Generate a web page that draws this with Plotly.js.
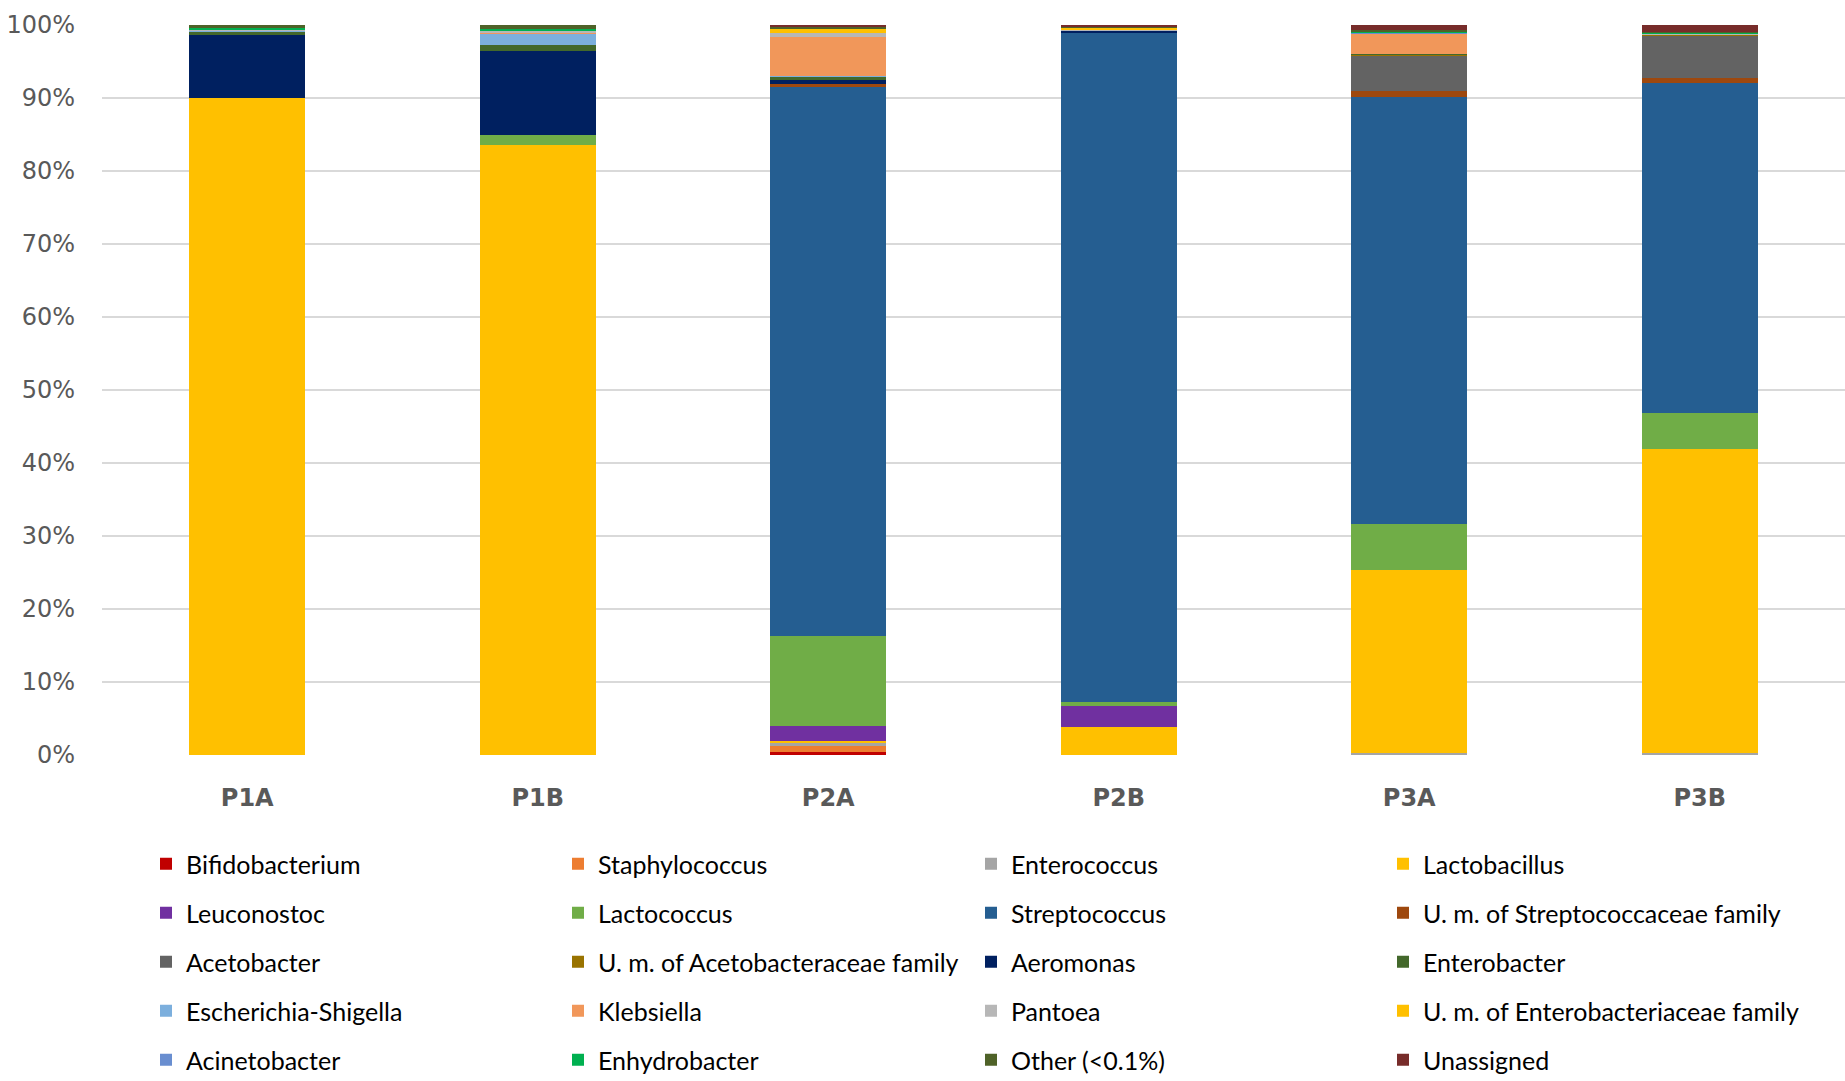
<!DOCTYPE html>
<html>
<head>
<meta charset="utf-8">
<script src="https://cdn.plot.ly/plotly-3.0.1.min.js"></script>
<style>html,body{margin:0;padding:0;background:#fff;}#chart{width:1845px;height:1081px;}</style>
</head>
<body>
<div id="chart"></div>
<script>
// Samples (categories)
const samples = ['P1A', 'P1B', 'P2A', 'P2B', 'P3A', 'P3B'];

// Relative abundance (%) per sample, in order P1A, P1B, P2A, P2B, P3A, P3B
const bifidobacterium      = [0,    0,    0.45, 0,    0,    0];
const staphylococcus       = [0,    0,    0.8,  0,    0,    0];
const enterococcus         = [0,    0,    0.35, 0,    0.3,  0.25];
const lactobacillus        = [90.0, 83.6, 0.3,  3.9,  25.0, 41.65];
const leuconostoc          = [0,    0,    2.1,  2.8,  0,    0];
const lactococcus          = [0,    1.4,  12.3, 0.6,  6.35, 5.0];
const streptococcus        = [0,    0,    75.2, 91.7, 58.4, 45.2];
const umStreptococcaceae   = [0,    0,    0.4,  0,    0.8,  0.65];
const acetobacter          = [0,    0,    0,    0,    4.9,  5.75];
const umAcetobacteraceae   = [0,    0,    0,    0,    0.1,  0.3];
const aeromonas            = [8.6,  11.5, 0.6,  0.25, 0,    0];
const enterobacter         = [0.4,  0.75, 0.45, 0,    0.15, 0];
const escherichiaShigella  = [0.25, 1.45, 0.1,  0,    0,    0];
const klebsiella           = [0,    0.3,  5.25, 0,    2.75, 0];
const pantoea              = [0.1,  0.15, 0.6,  0.15, 0,    0.1];
const umEnterobacteriaceae = [0,    0,    0.55, 0.2,  0,    0];
const acinetobacter        = [0,    0,    0,    0,    0.2,  0];
const enhydrobacter        = [0.15, 0.3,  0,    0,    0.1,  0.1];
const otherTaxa            = [0.45, 0.55, 0.35, 0.25, 0.2,  0.15];
const unassigned           = [0,    0,    0.2,  0.15, 0.7,  0.9];

const taxonNames = [
  'Bifidobacterium', 'Staphylococcus', 'Enterococcus', 'Lactobacillus',
  'Leuconostoc', 'Lactococcus', 'Streptococcus', 'U. m. of Streptococcaceae family',
  'Acetobacter', 'U. m. of Acetobacteraceae family', 'Aeromonas', 'Enterobacter',
  'Escherichia-Shigella', 'Klebsiella', 'Pantoea', 'U. m. of Enterobacteriaceae family',
  'Acinetobacter', 'Enhydrobacter', 'Other (<0.1%)', 'Unassigned'
];
const taxonValues = [
  bifidobacterium, staphylococcus, enterococcus, lactobacillus,
  leuconostoc, lactococcus, streptococcus, umStreptococcaceae,
  acetobacter, umAcetobacteraceae, aeromonas, enterobacter,
  escherichiaShigella, klebsiella, pantoea, umEnterobacteriaceae,
  acinetobacter, enhydrobacter, otherTaxa, unassigned
];
const taxonColors = [
  '#C00000', '#ED7D31', '#A5A5A5', '#FFC000',
  '#7030A0', '#70AD47', '#255E91', '#9E480E',
  '#636363', '#997300', '#002060', '#43682B',
  '#7CAFDD', '#F1975A', '#B7B7B7', '#FFC000',
  '#698ED0', '#00B050', '#4F6228', '#772C2A'
];

const legendIds = ['legend', 'legend2', 'legend3', 'legend4'];

const traces = taxonNames.map((name, i) => ({
  type: 'bar',
  name: name,
  x: samples,
  y: taxonValues[i],
  marker: {color: taxonColors[i], line: {width: 0}},
  legend: legendIds[i % 4],
  legendgroup: 'g' + i,
  hovertemplate: '%{x}<br>' + name + ': %{y:.2f}%<extra></extra>'
}));

const legendFont = {family: 'Lato, "Liberation Sans", sans-serif', size: 25, color: '#000000'};
const legendXs = [146, 558, 971, 1383];
const legendTop = 841;

function mkLegend(px) {
  return {
    xref: 'container', yref: 'container',
    x: px / 1845, y: 1 - legendTop / 1081,
    xanchor: 'left', yanchor: 'top',
    orientation: 'v',
    traceorder: 'grouped',
    tracegroupgap: 13.5,
    itemwidth: 30,
    bgcolor: 'rgba(0,0,0,0)',
    borderwidth: 0,
    font: legendFont
  };
}

const layout = {
  width: 1845,
  height: 1081,
  margin: {l: 102, r: 0, t: 25, b: 326, autoexpand: false},
  paper_bgcolor: '#ffffff',
  plot_bgcolor: '#ffffff',
  barmode: 'stack',
  barnorm: 'percent',
  bargap: 0.6,
  showlegend: true,
  xaxis: {
    type: 'category',
    showgrid: false,
    showline: false,
    zeroline: false,
    ticks: '',
    ticklabelstandoff: 26,
    tickfont: {family: '"DejaVu Sans", sans-serif', size: 24, color: '#595959', weight: 'bold'}
  },
  yaxis: {
    range: [0, 100],
    dtick: 10,
    ticksuffix: '%',
    showgrid: true,
    gridcolor: '#D9D9D9',
    gridwidth: 1.5,
    zeroline: false,
    showline: false,
    ticks: '',
    ticklabelstandoff: 26,
    tickfont: {family: '"DejaVu Sans", sans-serif', size: 24, color: '#595959'}
  },
  legend: mkLegend(legendXs[0]),
  legend2: mkLegend(legendXs[1]),
  legend3: mkLegend(legendXs[2]),
  legend4: mkLegend(legendXs[3])
};

Plotly.newPlot('chart', traces, layout, {displayModeBar: false, responsive: false});
</script>
</body>
</html>
